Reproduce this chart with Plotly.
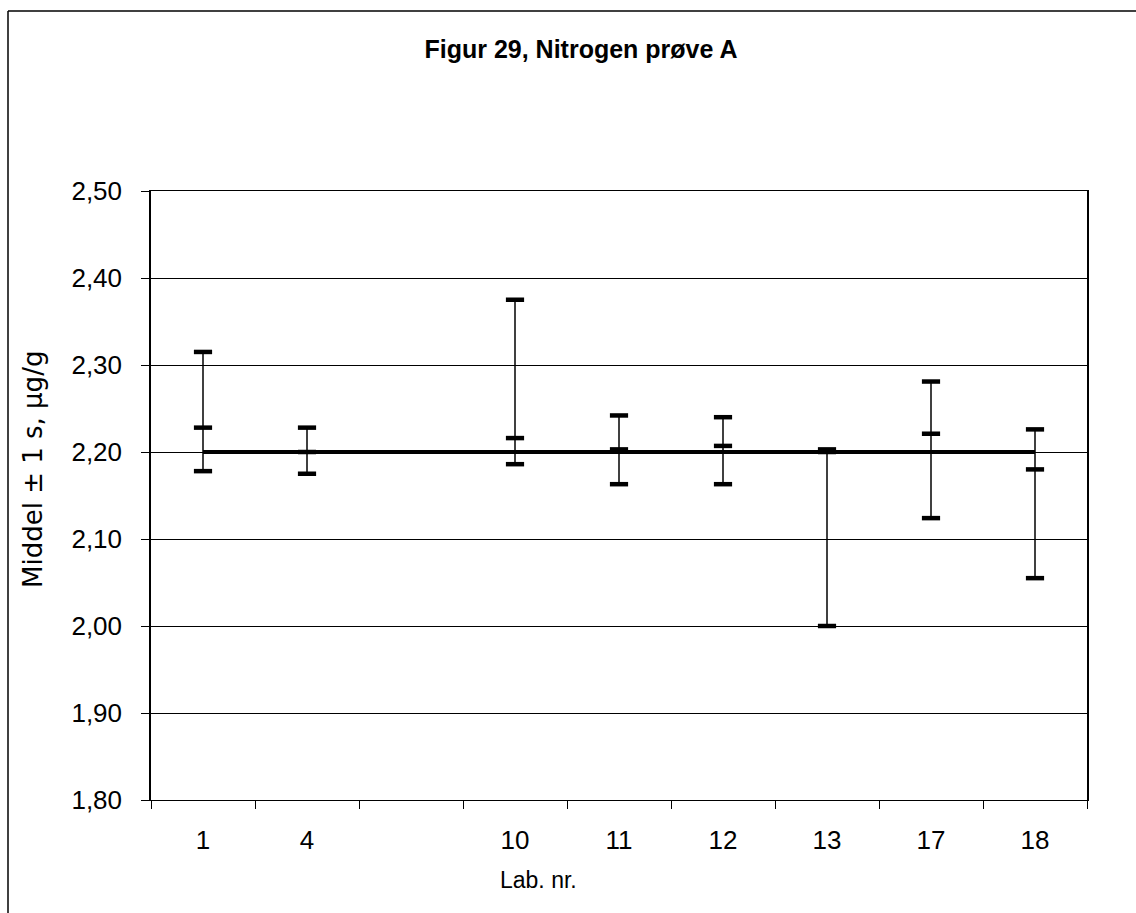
import plotly.graph_objects as go

# ---- data ----
labs = ["1", "4", " ", "10", "11", "12", "13", "17", "18"]
high = [2.315, 2.228, None, 2.375, 2.242, 2.240, 2.203, 2.281, 2.226]
mean = [2.228, 2.200, None, 2.216, 2.203, 2.207, 2.200, 2.221, 2.180]
low = [2.178, 2.175, None, 2.186, 2.163, 2.163, 2.000, 2.124, 2.055]
assigned_value = 2.20
assigned_from, assigned_to = "1", "18"

y_ticks = [1.8, 1.9, 2.0, 2.1, 2.2, 2.3, 2.4, 2.5]

W, H = 1136, 913
L, R, T, B = 151, 1087, 191, 800  # plot area in pixels

def px(xp):
    return (xp - L) / (R - L)

def py(yp):
    return (B - yp) / (B - T)

FONT = "Liberation Sans, Arial, sans-serif"

fig = go.Figure()

# vertical range lines
vx, vy = [], []
for lab, lo, hi in zip(labs, low, high):
    if lo is None:
        continue
    vx += [lab, lab, None]
    vy += [lo, hi, None]
fig.add_trace(go.Scatter(x=vx, y=vy, mode="lines",
                         line=dict(color="black", width=1.5),
                         hoverinfo="skip", showlegend=False))

# assigned value line
fig.add_trace(go.Scatter(x=[assigned_from, assigned_to],
                         y=[assigned_value, assigned_value], mode="lines",
                         line=dict(color="black", width=4),
                         showlegend=False))

# dashes for high / mean / low
for series in (high, mean, low):
    xs = [l for l, v in zip(labs, series) if v is not None]
    ys = [v for v in series if v is not None]
    fig.add_trace(go.Scatter(x=xs, y=ys, mode="markers",
                             marker=dict(symbol="line-ew", size=13,
                                         line=dict(color="black", width=4.5)),
                             showlegend=False))

fig.update_layout(
    width=W, height=H,
    margin=dict(l=L, r=W - R, t=T, b=H - B, pad=0),
    paper_bgcolor="white", plot_bgcolor="white",
    separators=",.",
    font=dict(family=FONT, color="black"),
    title=dict(text="<b>Figur 29, Nitrogen prøve A</b>",
               xref="paper", x=px(581), xanchor="center",
               yref="container", y=1 - 49 / H, yanchor="middle",
               font=dict(family=FONT, size=25, color="black")),
    showlegend=False,
)

fig.update_xaxes(
    type="category", categoryorder="array", categoryarray=labs,
    range=[-0.5, len(labs) - 0.5],
    tickson="boundaries", ticks="outside", ticklen=8, tickwidth=1,
    tickcolor="black", showgrid=False,
    showline=True, linecolor="black", linewidth=1, mirror=True,
    tickfont=dict(family=FONT, size=26, color="black"),
    ticklabelstandoff=17, zeroline=False,
)
fig.update_yaxes(
    range=[1.8, 2.5], tickvals=y_ticks, tickformat=".2f",
    ticks="outside", ticklen=8, tickwidth=1, tickcolor="black",
    showgrid=True, gridcolor="black", gridwidth=1,
    showline=True, linecolor="black", linewidth=1.5, mirror=True,
    tickfont=dict(family=FONT, size=26, color="black"),
    ticklabelstandoff=14, zeroline=False,
)

# axis titles as annotations
fig.add_annotation(text="Lab. nr.", xref="paper", yref="paper",
                   x=px(538), y=py(880), xanchor="center", yanchor="middle",
                   showarrow=False, font=dict(family=FONT, size=23, color="black"))
fig.add_annotation(text="Middel ± 1 s, µg/g", xref="paper", yref="paper",
                   x=px(33), y=py(470), xanchor="center", yanchor="middle",
                   textangle=-90, showarrow=False,
                   font=dict(family="DejaVu Sans, sans-serif", size=26, color="black"))

# outer frame (top and left edges visible in the reference)
fig.add_shape(type="line", xref="paper", yref="paper",
              x0=px(8), y0=py(11), x1=px(1140), y1=py(11),
              line=dict(color="black", width=1.5))
fig.add_shape(type="line", xref="paper", yref="paper",
              x0=px(8), y0=py(11), x1=px(8), y1=py(920),
              line=dict(color="black", width=1.5))

fig.write_html("out.html",
               config={"displayModeBar": False},
               post_script="document.body.style.margin='0';document.body.style.overflow='hidden';")
